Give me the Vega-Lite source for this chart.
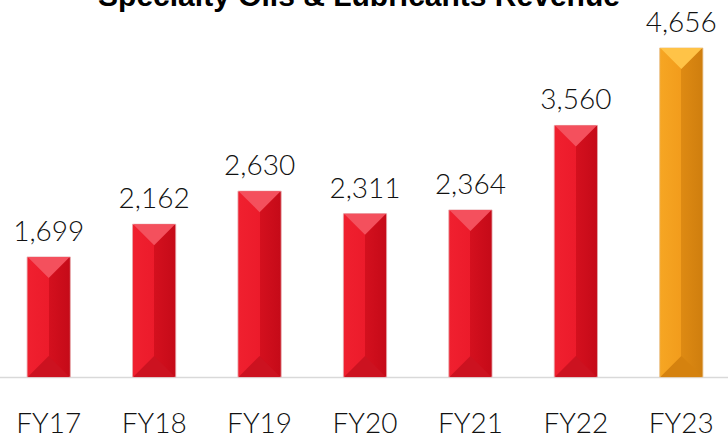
{
  "$schema": "https://vega.github.io/schema/vega-lite/v6.json",
  "autosize": "none",
  "width": 728,
  "height": 357,
  "padding": {"top": 20, "left": 0, "right": 0, "bottom": 59},
  "title": {
    "text": "Specialty Oils & Lubricants Revenue",
    "font": "Liberation Sans",
    "fontSize": 30,
    "fontWeight": "bold",
    "color": "#000000",
    "anchor": "middle",
    "frame": "group",
    "dx": -5,
    "baseline": "alphabetic",
    "offset": -26
  },
  "data": {
    "values": [
      {"FY": "FY17", "revenue": 1699},
      {"FY": "FY18", "revenue": 2162},
      {"FY": "FY19", "revenue": 2630},
      {"FY": "FY20", "revenue": 2311},
      {"FY": "FY21", "revenue": 2364},
      {"FY": "FY22", "revenue": 3560},
      {"FY": "FY23", "revenue": 4656}
    ]
  },
  "encoding": {
    "x": {
      "field": "FY",
      "type": "nominal",
      "sort": null,
      "scale": {"range": [-4, 734], "paddingInner": 0.59, "paddingOuter": 0.295},
      "axis": {
        "title": null,
        "labelAngle": 0,
        "labelFont": "Lato",
        "labelFontSize": 28,
        "labelFontWeight": 300,
        "labelColor": "#111111",
        "labelBaseline": "alphabetic",
        "labelPadding": 55,
        "ticks": false,
        "tickSize": 0,
        "domainColor": "#D9D9D9",
        "domainWidth": 1.5
      }
    }
  },
  "layer": [
    {
      "mark": {"type": "bar", "strokeWidth": 0.8},
      "encoding": {
        "y": {"field": "revenue", "type": "quantitative", "scale": {"domain": [0, 5052], "nice": false}, "axis": null},
        "color": {
          "condition": {
            "test": "datum.FY === 'FY23'",
            "value": {"gradient": "linear", "x1": 0, "x2": 1, "y1": 0, "y2": 0,
              "stops": [{"offset": 0, "color": "#F6A623"}, {"offset": 0.5, "color": "#F29C1C"}, {"offset": 0.5, "color": "#DE8A13"}, {"offset": 1, "color": "#CF7E0E"}]}
          },
          "value": {"gradient": "linear", "x1": 0, "x2": 1, "y1": 0, "y2": 0,
            "stops": [{"offset": 0, "color": "#F0202F"}, {"offset": 0.5, "color": "#EC1B2B"}, {"offset": 0.5, "color": "#D4101E"}, {"offset": 1, "color": "#C50A18"}]}
        },
        "stroke": {
          "condition": {"test": "datum.FY === 'FY23'", "value": "#E8C08A"},
          "value": "#E6A9AD"
        }
      }
    },
    {
      "mark": {"type": "point", "shape": "M-1,0L1,0L0,1Z", "filled": true, "opacity": 1, "size": 1764, "strokeWidth": 0},
      "encoding": {
        "y": {"field": "revenue", "type": "quantitative"},
        "color": {
          "condition": {"test": "datum.FY === 'FY23'", "value": "#FFC347"},
          "value": "#F4505D"
        }
      }
    },
    {
      "mark": {"type": "point", "shape": "M-1,0L1,0L0,-1Z", "filled": true, "opacity": 1, "size": 1764, "strokeWidth": 0},
      "encoding": {
        "y": {"datum": 0, "type": "quantitative"},
        "color": {
          "condition": {"test": "datum.FY === 'FY23'", "value": "#D5820F"},
          "value": "#CC1220"
        }
      }
    },
    {
      "mark": {"type": "text", "font": "Lato", "fontSize": 28, "fontWeight": 300, "color": "#111111", "baseline": "alphabetic", "dy": -16},
      "encoding": {
        "y": {"field": "revenue", "type": "quantitative"},
        "text": {"field": "revenue", "type": "quantitative", "format": ","}
      }
    }
  ],
  "config": {"view": {"stroke": null}}
}
